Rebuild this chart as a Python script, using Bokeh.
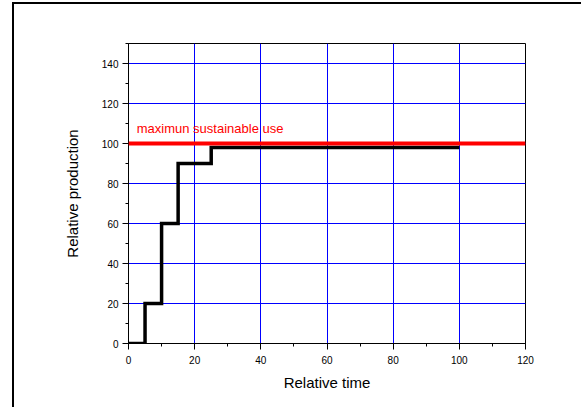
from bokeh.plotting import figure
from bokeh.models import Label, Span, SingleIntervalTicker, Range1d
from bokeh.embed import file_html
from bokeh.resources import INLINE

# data
time = [0, 5, 10, 15, 25, 100]
production = [0, 20, 60, 90, 98, 98]
max_sustainable = 100
max_label = "maximun sustainable use"
x_label = "Relative time"
y_label = "Relative production"

FONT = "Liberation Sans"

p = figure(width=569, height=405, output_backend="svg", toolbar_location=None,
           x_range=Range1d(0, 120), y_range=Range1d(0, 150),
           min_border_left=114, min_border_right=58, min_border_top=39, min_border_bottom=66)
p.margin = (2, 0, 0, 12)
p.styles = {"border-left": "2px solid black", "border-top": "2px solid black"}

p.outline_line_color = "black"
p.outline_line_width = 1

p.xaxis.ticker = SingleIntervalTicker(interval=20, num_minor_ticks=2)
p.yaxis.ticker = SingleIntervalTicker(interval=20, num_minor_ticks=2)

for ax in (p.xaxis, p.yaxis):
    ax.axis_line_color = "black"
    ax.major_tick_line_color = "black"
    ax.minor_tick_line_color = "black"
    ax.major_tick_out = 6
    ax.major_tick_in = 0
    ax.minor_tick_out = 3
    ax.minor_tick_in = 0
    ax.major_label_text_font = FONT
    ax.major_label_text_font_size = "10px"
    ax.major_label_text_color = "black"
    ax.axis_label_text_font = FONT
    ax.axis_label_text_font_size = "15px"
    ax.axis_label_text_font_style = "normal"
    ax.axis_label_text_color = "black"

p.xaxis.axis_label = x_label
p.yaxis.axis_label = y_label
p.xaxis.major_label_standoff = 6
p.yaxis.major_label_standoff = 4
p.xaxis.axis_label_standoff = 7
p.yaxis.axis_label_standoff = 18

p.xgrid.grid_line_color = "blue"
p.ygrid.grid_line_color = "blue"
p.xgrid.grid_line_width = 1
p.ygrid.grid_line_width = 1
p.xgrid.ticker = SingleIntervalTicker(interval=20)
p.ygrid.ticker = SingleIntervalTicker(interval=20)

p.step(time, production, mode="after", line_color="black", line_width=3.5, line_join="miter")

p.add_layout(Span(location=max_sustainable, dimension="width", line_color="red", line_width=4))
p.add_layout(Label(x=2.5, y=max_sustainable + 4, text=max_label, text_color="red",
                   text_font=FONT, text_font_size="13px"))

open("out.html", "w").write(file_html(p, INLINE))
